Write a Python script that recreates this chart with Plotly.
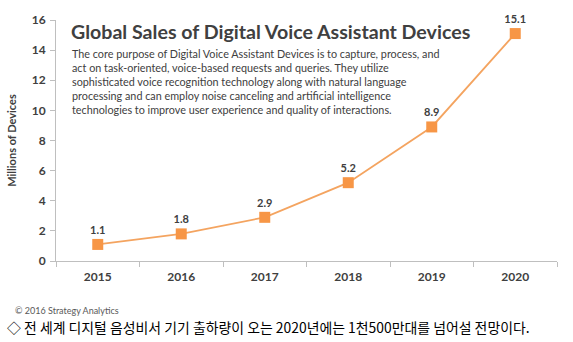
import plotly.graph_objects as go

years = ["2015", "2016", "2017", "2018", "2019", "2020"]
sales = [1.1, 1.8, 2.9, 5.2, 8.9, 15.1]
labels = ["1.1", "1.8", "2.9", "5.2", "8.9", "15.1"]
y_ticks = [0, 2, 4, 6, 8, 10, 12, 14, 16]

W, H = 573, 342
L, R, T, B = 53, 16, 17, 81
pw, ph = W - L - R, H - T - B

def px(x):
    return (x - L) / pw

def py(y):
    return (H - B - y) / ph

fig = go.Figure()
fig.add_trace(go.Scatter(
    x=years, y=sales, mode="lines+markers+text",
    line=dict(color="#F4A460", width=1.8),
    marker=dict(symbol="square", size=11, color="#F79646"),
    text=labels, textposition="top center",
    textfont=dict(family="Lato", size=11, color="#404040", weight="bold"),
    cliponaxis=False, hoverinfo="skip",
))

fig.update_layout(
    width=W, height=H, margin=dict(l=L, r=R, t=T, b=B),
    paper_bgcolor="white", plot_bgcolor="white", showlegend=False,
    font=dict(family="Lato", color="#404040"),
    xaxis=dict(type="category", tickson="boundaries", ticks="outside", ticklen=5,
               tickcolor="#BFBFBF", showline=True, linecolor="#BFBFBF", linewidth=1,
               showgrid=False, ticklabelstandoff=5,
               tickfont=dict(family="Lato", size=12, color="#404040", weight="bold"),
               range=[-0.5, 5.5], fixedrange=True),
    yaxis=dict(range=[0, 16], tickvals=y_ticks, ticks="outside", ticklen=5,
               tickcolor="#BFBFBF", showline=True, linecolor="#BFBFBF", linewidth=1,
               showgrid=False, zeroline=False, ticklabelstandoff=2,
               tickfont=dict(family="Lato", size=12, color="#404040", weight="bold"),
               title=dict(text="Millions of Devices", standoff=12,
                          font=dict(family="Lato", size=11, color="#404040", weight="bold"))),
)

annotations = [
    dict(text="Global Sales of Digital Voice Assistant Devices", x=px(66), y=py(29),
         xanchor="left", yanchor="middle",
         font=dict(family="Lato", size=19.6, color="#404040", weight="bold")),
    dict(text=("The core purpose of Digital Voice Assistant Devices is to capture, process, and<br>"
               "act on task-oriented, voice-based requests and queries. They utilize<br>"
               "sophisticated voice recognition technology along with natural language<br>"
               "processing and can employ noise canceling and artificial intelligence<br>"
               "technologies to improve user experience and quality of interactions."),
         x=px(67), y=py(42), xanchor="left", yanchor="top", align="left",
         font=dict(family="Lato", size=10.8, color="#404040")),
    dict(text="© 2016 Strategy Analytics", x=px(10), y=py(311),
         xanchor="left", yanchor="middle",
         font=dict(family="Lato", size=9, color="#595959")),
    dict(text="◇ 전 세계 디지털 음성비서 기기 출하량이 오는 2020년에는 1천500만대를 넘어설 전망이다.",
         x=px(2), y=py(328), xanchor="left", yanchor="middle",
         font=dict(family="Noto Sans CJK KR", size=13.9, color="#000000")),
]
for a in annotations:
    fig.add_annotation(xref="paper", yref="paper", showarrow=False, **a)

fig.write_html("out.html")
